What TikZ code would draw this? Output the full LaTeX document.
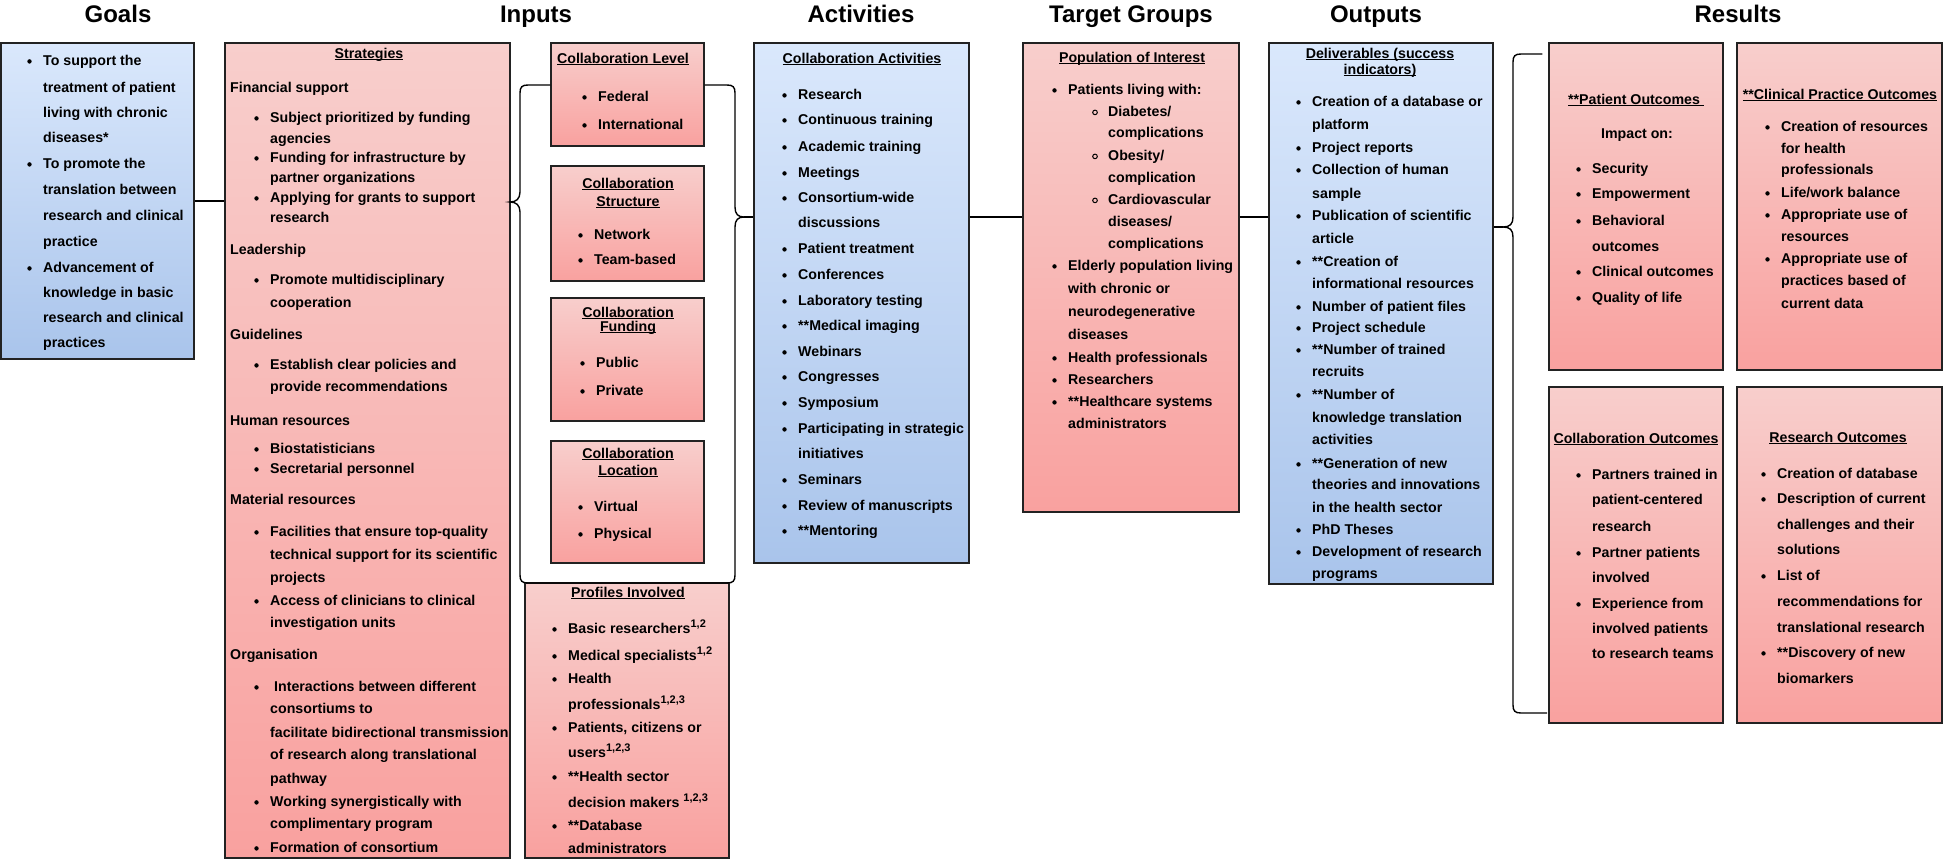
\documentclass[tikz,border=0pt]{standalone}
\usepackage{fontspec}
\setmainfont{Liberation Sans}
\usetikzlibrary{fit}
\definecolor{pinkT}{HTML}{F8CECC}
\definecolor{pinkB}{HTML}{F9A19F}
\definecolor{blueT}{HTML}{DAE8FC}
\definecolor{blueB}{HTML}{A9C4EB}
\definecolor{edgec}{HTML}{222222}
\newcounter{ln}
\newcommand\myul[1]{\setbox0=\hbox{#1}\rlap{\rule[-2.2pt]{\wd0}{1pt}}\box0}
\newcommand\mysup[1]{\raisebox{5.5pt}{\fontsize{11}{11}\selectfont\bfseries #1}}
\newcommand\TL[3]{\stepcounter{ln}\edef\lnm{ln\arabic{ln}}\node[tx,anchor=base west] (\lnm) at (#1,#2+5) {#3};}
\newcommand\BL[3]{\fill (#1-13.5,#2+1.4) circle (2.2);\TL{#1}{#2}{#3}}
\newcommand\SBL[3]{\draw[line width=1pt] (#1-13,#2+1.4) circle (2.3);\TL{#1}{#2}{#3}}
\newcommand\CL[3]{\stepcounter{ln}\edef\lnm{ln\arabic{ln}}\node[tx,anchor=base] (\lnm) at (#1,#2+5) {#3};}
\begin{document}
\begin{tikzpicture}[x=1pt,y=-1pt,
 box/.style={draw=edgec,line width=1.3pt,inner sep=0pt,rectangle},
 pinkbox/.style={box,top color=pinkT,bottom color=pinkB},
 bluebox/.style={box,top color=blueT,bottom color=blueB},
 tx/.style={inner sep=0pt,font=\fontsize{14.2}{16}\selectfont\bfseries},
 ttl/.style={inner sep=0pt,font=\fontsize{24}{28}\selectfont\bfseries},
 conn/.style={draw=black,line width=1.4pt},
]
\path[use as bounding box] (0,0) rectangle (1952,860);

% column titles
\node[ttl,anchor=base] (hGoals) at (118,22) {Goals};
\node[ttl,anchor=base] (hInputs) at (536,22) {Inputs};
\node[ttl,anchor=base] (hAct) at (861,22) {Activities};
\node[ttl,anchor=base] (hTarget) at (1131,22) {Target Groups};
\node[ttl,anchor=base] (hOut) at (1376,22) {Outputs};
\node[ttl,anchor=base] (hRes) at (1738,22) {Results};

% boxes
\node[bluebox,fit={(1,43)(194,359)}] (goals) {};
\node[pinkbox,fit={(225,43)(510,858)}] (strat) {};
\node[pinkbox,fit={(551,43)(704,146)}] (clevel) {};
\node[pinkbox,fit={(551,166)(704,281)}] (cstruct) {};
\node[pinkbox,fit={(551,298)(704,421)}] (cfund) {};
\node[pinkbox,fit={(551,441)(704,563)}] (cloc) {};
\node[pinkbox,fit={(525,583)(729,858)}] (prof) {};
\node[bluebox,fit={(754,43)(969,563)}] (act) {};
\node[pinkbox,fit={(1023,43)(1239,512)}] (tg) {};
\node[bluebox,fit={(1269,43)(1493,584)}] (outp) {};
\node[pinkbox,fit={(1549,43)(1723,370)}] (rpat) {};
\node[pinkbox,fit={(1737,43)(1942,370)}] (rclin) {};
\node[pinkbox,fit={(1549,387)(1723,723)}] (rcol) {};
\node[pinkbox,fit={(1737,387)(1942,723)}] (rres) {};

% connectors
\coordinate (tipA) at (744,217);
\coordinate (tipR) at (1503,227);
\coordinate (yTop) at (0,85);
\draw[conn] (goals.east) -- (goals.east -| strat.west);
\draw[conn] (clevel.west |- yTop) -- (528,85) .. controls (522,85) and (520,87) .. (520,93)
  -- (520,192) .. controls (520,199) and (516,202) .. (510,202)
  .. controls (516,202) and (520,205) .. (520,212)
  -- (520,575) .. controls (520,581) and (522,583) .. (528,583)
  -- (727,583) .. controls (733,583) and (735,581) .. (735,575)
  -- (735,227) .. controls (735,220) and (738,217) .. (tipA)
  .. controls (738,217) and (735,214) .. (735,207)
  -- (735,93) .. controls (735,87) and (733,85) .. (727,85)
  -- (clevel.east |- yTop);
\draw[conn] (tipA) -- (tipA -| act.west);
\draw[conn] (act.east |- tipA) -- (tipA -| tg.west);
\draw[conn] (tg.east |- tipA) -- (tipA -| outp.west);
\draw[conn] (outp.east |- tipR) -- (tipR);
\draw[conn] (rpat.west |- 0,54) ++(-6,0) -- (1521,54) .. controls (1515,54) and (1513,56) .. (1513,62)
  -- (1513,217) .. controls (1513,224) and (1510,227) .. (tipR)
  .. controls (1510,227) and (1513,230) .. (1513,237)
  -- (1513,705) .. controls (1513,711) and (1515,713) .. (1521,713) -- (1547,713);

% Goals
\BL{43}{60}{To support the}
\TL{43}{87}{treatment of patient}
\TL{43}{112}{living with chronic}
\TL{43}{137}{diseases*}
\BL{43}{163}{To promote the}
\TL{43}{189}{translation between}
\TL{43}{215}{research and clinical}
\TL{43}{241}{practice}
\BL{43}{267}{Advancement of}
\TL{43}{292}{knowledge in basic}
\TL{43}{317}{research and clinical}
\TL{43}{342}{practices}

% Strategies
\CL{369}{53}{\myul{Strategies}}
\TL{230}{87}{Financial support}
\BL{270}{117}{Subject prioritized by funding}
\TL{270}{138}{agencies}
\BL{270}{157}{Funding for infrastructure by}
\TL{270}{177}{partner organizations}
\BL{270}{197}{Applying for grants to support}
\TL{270}{217}{research}
\TL{230}{249}{Leadership}
\BL{270}{279}{Promote multidisciplinary}
\TL{270}{302}{cooperation}
\TL{230}{334}{Guidelines}
\BL{270}{364}{Establish clear policies and}
\TL{270}{386}{provide recommendations}
\TL{230}{420}{Human resources}
\BL{270}{448}{Biostatisticians}
\BL{270}{468}{Secretarial personnel}
\TL{230}{499}{Material resources}
\BL{270}{531}{Facilities that ensure top-quality}
\TL{270}{554}{technical support for its scientific}
\TL{270}{577}{projects}
\BL{270}{600}{Access of clinicians to clinical}
\TL{270}{622}{investigation units}
\TL{230}{654}{Organisation}
\BL{270}{686}{\ Interactions between different}
\TL{270}{708}{consortiums to}
\TL{270}{732}{facilitate bidirectional transmission}
\TL{270}{754}{of research along translational}
\TL{270}{778}{pathway}
\BL{270}{801}{Working synergistically with}
\TL{270}{823}{complimentary program}
\BL{270}{847}{Formation of consortium}

% Collaboration boxes
\CL{623}{58}{\myul{Collaboration Level}}
\BL{598}{96}{Federal}
\BL{598}{124}{International}
\CL{628}{183}{\myul{Collaboration}}
\CL{628}{201}{\myul{Structure}}
\BL{594}{234}{Network}
\BL{594}{259}{Team-based}
\CL{628}{312}{\myul{Collaboration}}
\CL{628}{326}{\myul{Funding}}
\BL{596}{362}{Public}
\BL{596}{390}{Private}
\CL{628}{453}{\myul{Collaboration}}
\CL{628}{470}{\myul{Location}}
\BL{594}{506}{Virtual}
\BL{594}{533}{Physical}

% Profiles
\CL{628}{592}{\myul{Profiles Involved}}
\BL{568}{628}{Basic researchers\mysup{1,2}}
\BL{568}{655}{Medical specialists\mysup{1,2}}
\BL{568}{678}{Health}
\TL{568}{704}{professionals\mysup{1,2,3}}
\BL{568}{727}{Patients, citizens or}
\TL{568}{752}{users\mysup{1,2,3}}
\BL{568}{776}{**Health sector}
\TL{568}{802}{decision makers \mysup{1,2,3}}
\BL{568}{825}{**Database}
\TL{568}{848}{administrators}

% Activities
\CL{862}{58}{\myul{Collaboration Activities}}
\BL{798}{94}{Research}
\BL{798}{119}{Continuous training}
\BL{798}{146}{Academic training}
\BL{798}{172}{Meetings}
\BL{798}{197}{Consortium-wide}
\TL{798}{222}{discussions}
\BL{798}{248}{Patient treatment}
\BL{798}{274}{Conferences}
\BL{798}{300}{Laboratory testing}
\BL{798}{325}{**Medical imaging}
\BL{798}{351}{Webinars}
\BL{798}{376}{Congresses}
\BL{798}{402}{Symposium}
\BL{798}{428}{Participating in strategic}
\TL{798}{453}{initiatives}
\BL{798}{479}{Seminars}
\BL{798}{505}{Review of manuscripts}
\BL{798}{530}{**Mentoring}

% Target groups
\CL{1132}{57}{\myul{Population of Interest}}
\BL{1068}{89}{Patients living with:}
\SBL{1108}{111}{Diabetes/}
\TL{1108}{132}{complications}
\SBL{1108}{155}{Obesity/}
\TL{1108}{177}{complication}
\SBL{1108}{199}{Cardiovascular}
\TL{1108}{221}{diseases/}
\TL{1108}{243}{complications}
\BL{1068}{265}{Elderly population living}
\TL{1068}{288}{with chronic or}
\TL{1068}{311}{neurodegenerative}
\TL{1068}{334}{diseases}
\BL{1068}{357}{Health professionals}
\BL{1068}{379}{Researchers}
\BL{1068}{401}{**Healthcare systems}
\TL{1068}{423}{administrators}

% Outputs
\CL{1380}{53}{\myul{Deliverables (success}}
\CL{1380}{69}{\myul{indicators)}}
\BL{1312}{101}{Creation of a database or}
\TL{1312}{124}{platform}
\BL{1312}{147}{Project reports}
\BL{1312}{169}{Collection of human}
\TL{1312}{193}{sample}
\BL{1312}{215}{Publication of scientific}
\TL{1312}{238}{article}
\BL{1312}{261}{**Creation of}
\TL{1312}{283}{informational resources}
\BL{1312}{306}{Number of patient files}
\BL{1312}{327}{Project schedule}
\BL{1312}{349}{**Number of trained}
\TL{1312}{371}{recruits}
\BL{1312}{394}{**Number of}
\TL{1312}{417}{knowledge translation}
\TL{1312}{439}{activities}
\BL{1312}{463}{**Generation of new}
\TL{1312}{484}{theories and innovations}
\TL{1312}{507}{in the health sector}
\BL{1312}{529}{PhD Theses}
\BL{1312}{551}{Development of research}
\TL{1312}{573}{programs}

% Patient outcomes
\CL{1636}{99}{\myul{**Patient Outcomes\ }}
\CL{1637}{133}{Impact on:}
\BL{1592}{168}{Security}
\BL{1592}{193}{Empowerment}
\BL{1592}{220}{Behavioral}
\TL{1592}{246}{outcomes}
\BL{1592}{271}{Clinical outcomes}
\BL{1592}{297}{Quality of life}

% Clinical practice outcomes
\CL{1840}{94}{\myul{**Clinical Practice Outcomes}}
\BL{1781}{126}{Creation of resources}
\TL{1781}{148}{for health}
\TL{1781}{169}{professionals}
\BL{1781}{192}{Life/work balance}
\BL{1781}{214}{Appropriate use of}
\TL{1781}{236}{resources}
\BL{1781}{258}{Appropriate use of}
\TL{1781}{280}{practices based of}
\TL{1781}{303}{current data}

% Collaboration outcomes
\CL{1636}{438}{\myul{Collaboration Outcomes}}
\BL{1592}{474}{Partners trained in}
\TL{1592}{499}{patient-centered}
\TL{1592}{526}{research}
\BL{1592}{552}{Partner patients}
\TL{1592}{577}{involved}
\BL{1592}{603}{Experience from}
\TL{1592}{628}{involved patients}
\TL{1592}{653}{to research teams}

% Research outcomes
\CL{1838}{437}{\myul{Research Outcomes}}
\BL{1777}{473}{Creation of database}
\BL{1777}{498}{Description of current}
\TL{1777}{524}{challenges and their}
\TL{1777}{549}{solutions}
\BL{1777}{575}{List of}
\TL{1777}{601}{recommendations for}
\TL{1777}{627}{translational research}
\BL{1777}{652}{**Discovery of new}
\TL{1777}{678}{biomarkers}
\end{tikzpicture}
\end{document}
